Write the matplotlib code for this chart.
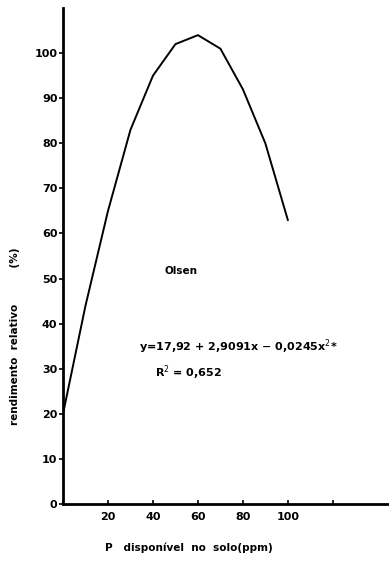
import matplotlib
matplotlib.use("Agg")
import matplotlib.pyplot as plt

# P disponível (ppm) e rendimento relativo (%)
p_ppm = [0, 10, 20, 30, 40, 50, 60, 70, 80, 90, 100]
rendimento = [20, 44, 65, 83, 95, 102, 104, 101, 92, 80, 63]

y_ticks = [0, 10, 20, 30, 40, 50, 60, 70, 80, 90, 100]
x_ticks = [20, 40, 60, 80, 100]
x_ticks_extra = [0, 120]


def main():
    fig = plt.figure(figsize=(3.89, 5.61), dpi=100)
    ax = fig.add_axes([0.162, 0.1016, 0.838, 0.884])

    ax.plot(p_ppm, rendimento, color="black", lw=1.4)

    ax.set_xlim(0, 145)
    ax.set_ylim(0, 110)
    for s in ["top", "right"]:
        ax.spines[s].set_visible(False)
    for s in ["left", "bottom"]:
        ax.spines[s].set_linewidth(2)

    ax.set_yticks(y_ticks)
    ax.set_yticklabels([str(v) for v in y_ticks], fontsize=8, fontweight="bold")
    ax.tick_params(axis="y", direction="out", length=3, width=1.2, pad=1)

    ax.set_xticks(x_ticks_extra + x_ticks)
    ax.set_xticklabels([""] * len(x_ticks_extra) + [str(v) for v in x_ticks],
                       fontsize=8, fontweight="bold")
    ax.tick_params(axis="x", direction="in", length=3, width=1.2, pad=6)

    ax.text(45, 51, "Olsen", fontsize=7.5, fontweight="bold")
    ax.text(34, 34, "y=17,92 + 2,9091x \u2212 0,0245x$^{2}$*", fontsize=8, fontweight="bold")
    ax.text(41, 28.3, "R$^{2}$ = 0,652", fontsize=8, fontweight="bold")

    fig.text(0.038, 0.40, "rendimento  relativo          (%)", rotation=90,
             fontsize=7.5, fontweight="bold", ha="center", va="center")
    fig.text(0.27, 0.023, "P   disponível  no  solo(ppm)", fontsize=7.5,
             fontweight="bold", ha="left", va="center")

    fig.savefig("out.png", dpi=100)


if __name__ == "__main__":
    main()
